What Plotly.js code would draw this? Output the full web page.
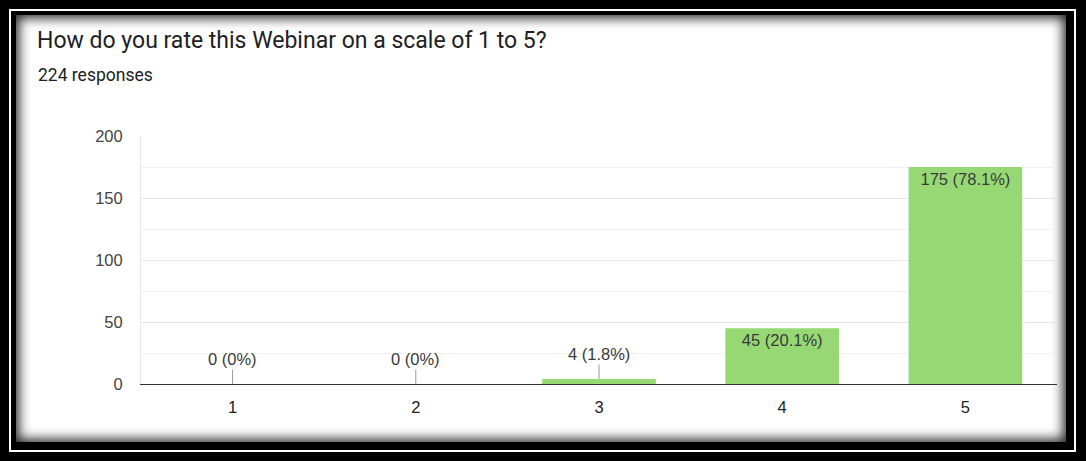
<!DOCTYPE html>
<html>
<head>
<meta charset="utf-8">
<script src="https://cdn.plot.ly/plotly-3.0.1.min.js"></script>
<style>
  html, body { margin: 0; padding: 0; width: 1086px; height: 461px; background: #000; overflow: hidden; }
  #outer { position: absolute; left: 9px; top: 9px; width: 1063px; height: 439px; border: 2px solid #fff; background: #000; }
  #inner { position: absolute; left: 5px; top: 4px; right: 8px; bottom: 8px; background: #fff;
           box-shadow: inset 0 0 12px 3px rgba(0,0,0,0.85); }
  #chart { position: absolute; left: 0; top: 0; width: 1086px; height: 461px; }
</style>
</head>
<body>
<div id="outer"><div id="inner"></div></div>
<div id="chart"></div>
<script>
const categories = ["1", "2", "3", "4", "5"];
const counts = [0, 0, 4, 45, 175];
const percents = ["0%", "0%", "1.8%", "20.1%", "78.1%"];
const totalResponses = 224;
const chartTitle = "How do you rate this Webinar on a scale of 1 to 5?";

const labels = counts.map((c, i) => c + " (" + percents[i] + ")");
const insideThreshold = 20;
const insideText = counts.map((c, i) => c >= insideThreshold ? labels[i] : "");

const W = 1086, H = 461;
const L = 141, R = 1057, T = 136, B = 384;
const chartFont = "Liberation Sans, Arial, sans-serif";

const trace = {
  type: "bar",
  x: categories,
  y: counts,
  text: insideText,
  textposition: "inside",
  insidetextanchor: "end",
  textangle: 0,
  textfont: { family: chartFont, size: 16.5, color: "#3a3a3a" },
  marker: { color: "#96d873", line: { width: 0 } },
  hoverinfo: "none",
  cliponaxis: false
};

const annotations = [];
counts.forEach((c, i) => {
  if (c < insideThreshold) {
    annotations.push({
      x: i, y: c, xref: "x", yref: "y",
      text: labels[i], showarrow: true, arrowhead: 0, arrowwidth: 1,
      arrowcolor: "#999999", ax: 0, ay: -25, standoff: 0,
      font: { family: chartFont, size: 16.5, color: "#3a3a3a" }
    });
  }
});
annotations.push({
  xref: "paper", yref: "paper",
  x: (36 - L) / (R - L), y: (B - 75) / (B - T),
  xanchor: "left", yanchor: "middle",
  text: totalResponses + " responses", showarrow: false,
  font: { family: "Roboto, Arial, sans-serif", size: 17.5, color: "#202124" }
});

const layout = {
  width: W, height: H,
  margin: { l: L, r: W - R, t: T, b: H - B, pad: 0 },
  paper_bgcolor: "rgba(0,0,0,0)",
  plot_bgcolor: "rgba(0,0,0,0)",
  showlegend: false,
  bargap: 0.38,
  title: {
    text: chartTitle,
    xref: "container", yref: "container",
    x: 37 / W, xanchor: "left",
    y: 1 - 40 / H, yanchor: "middle",
    font: { family: "Roboto, Arial, sans-serif", size: 23, color: "#202124" }
  },
  xaxis: {
    type: "category",
    showgrid: false,
    showline: true, linecolor: "#333333", linewidth: 1,
    ticks: "", ticklabelstandoff: 8,
    tickfont: { family: chartFont, size: 16.5, color: "#222222" },
    fixedrange: true
  },
  yaxis: {
    range: [0, 200], dtick: 50, tick0: 0,
    showgrid: true, gridcolor: "#e6e6e6", gridwidth: 1,
    minor: { dtick: 25, showgrid: true, gridcolor: "#f0f0f0", gridwidth: 1 },
    zeroline: false,
    showline: true, linecolor: "#e6e6e6", linewidth: 1,
    ticks: "", ticklabelstandoff: 14,
    tickfont: { family: chartFont, size: 16.5, color: "#444444" },
    fixedrange: true
  },
  annotations: annotations
};

Plotly.newPlot("chart", [trace], layout, { displayModeBar: false, staticPlot: true });
</script>
</body>
</html>
